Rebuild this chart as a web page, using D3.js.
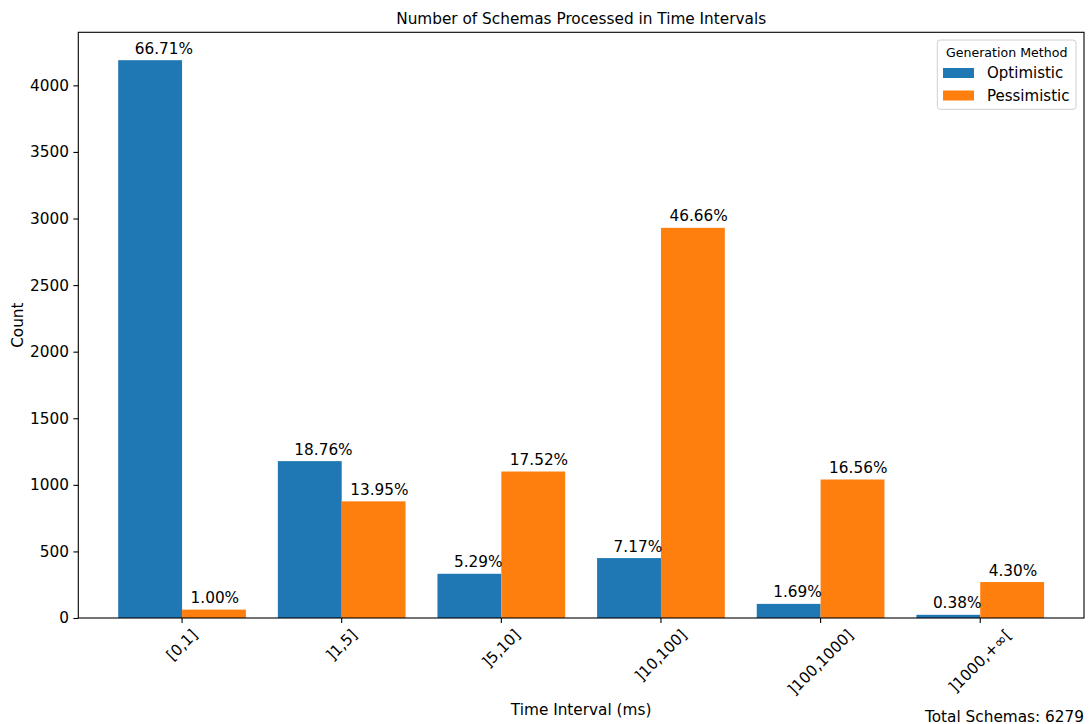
<!DOCTYPE html>
<html>
<head>
<meta charset="utf-8">
<script src="https://cdn.jsdelivr.net/npm/d3@7"></script>
<style>
  html, body { margin: 0; padding: 0; background: #fff; }
  svg { display: block; font-family: "DejaVu Sans", sans-serif; }
</style>
</head>
<body>
<svg id="chart" width="1089" height="724"></svg>
<script>
// Schema counts per processing-time interval
const intervals = ["[0,1]", "]1,5]", "]5,10]", "]10,100]", "]100,1000]", "]1000,+\u221E["];
const optimistic = [4189, 1178, 332, 450, 106, 24];
const pessimistic = [63, 876, 1100, 2930, 1040, 270];
const optimisticPct = ["66.71%", "18.76%", "5.29%", "7.17%", "1.69%", "0.38%"];
const pessimisticPct = ["1.00%", "13.95%", "17.52%", "46.66%", "16.56%", "4.30%"];
const yTicks = [0, 500, 1000, 1500, 2000, 2500, 3000, 3500, 4000];
const totalSchemas = 6279;

const series = [
  { name: "Optimistic", values: optimistic, pct: optimisticPct, color: "#1f77b4", shift: -0.4, labelPad: 16.5 },
  { name: "Pessimistic", values: pessimistic, pct: pessimisticPct, color: "#ff7f0e", shift: 0, labelPad: 8.5 }
];

const FS = 15.3;
const svg = d3.select("#chart");
const plot = { left: 78.3, right: 1084, top: 32.3, bottom: 618 };
const barW = 0.4;

const x = d3.scaleLinear().domain([-0.65, intervals.length - 0.35]).range([plot.left, plot.right]);
const yMax = d3.max([...optimistic, ...pessimistic]) * 1.05;
const y = d3.scaleLinear().domain([0, yMax]).range([plot.bottom, plot.top]);

// Bars
series.forEach(s => {
  svg.append("g").selectAll("rect")
    .data(s.values)
    .join("rect")
    .attr("x", (d, i) => x(i + s.shift))
    .attr("y", d => y(d))
    .attr("width", (d, i) => x(i + s.shift + barW) - x(i + s.shift))
    .attr("height", d => y(0) - y(d))
    .attr("fill", s.color);
});

// Percentage labels above bars
series.forEach(s => {
  svg.append("g").selectAll("text")
    .data(s.values)
    .join("text")
    .attr("x", (d, i) => x(i + s.shift) + s.labelPad)
    .attr("y", d => y(d) - 6.5)
    .attr("font-size", FS)
    .attr("fill", "#000")
    .text((d, i) => s.pct[i]);
});

// Y axis
const yAxis = d3.axisLeft(y).tickValues(yTicks).tickSize(4.9).tickPadding(4.5).tickFormat(d3.format("d"));
const yg = svg.append("g").attr("transform", `translate(${plot.left},0)`).call(yAxis);
yg.select(".domain").remove();
yg.selectAll(".tick line").attr("stroke", "#000").attr("stroke-width", 1.1);
yg.selectAll(".tick text").attr("font-size", FS).attr("fill", "#000")
  .attr("font-family", "DejaVu Sans");

// X axis ticks with rotated labels
const xg = svg.append("g");
intervals.forEach((label, i) => {
  const cx = x(i);
  xg.append("line")
    .attr("x1", cx).attr("x2", cx)
    .attr("y1", plot.bottom).attr("y2", plot.bottom + 4.9)
    .attr("stroke", "#000").attr("stroke-width", 1.1);
  const g = xg.append("g");
  g.append("text")
    .attr("text-anchor", "middle")
    .attr("font-size", FS)
    .attr("fill", "#000")
    .attr("transform", "rotate(-45)")
    .text(label);
  const bb = g.node().getBBox();
  const top = plot.bottom + 8;
  g.attr("transform", `translate(${cx - (bb.x + bb.width / 2)},${top - bb.y})`);
});

// Frame
svg.append("rect")
  .attr("x", plot.left).attr("y", plot.top)
  .attr("width", plot.right - plot.left).attr("height", plot.bottom - plot.top)
  .attr("fill", "none").attr("stroke", "#000").attr("stroke-width", 1.1);

// Title and axis labels
svg.append("text")
  .attr("x", (plot.left + plot.right) / 2).attr("y", 23.5)
  .attr("text-anchor", "middle").attr("font-size", FS)
  .text("Number of Schemas Processed in Time Intervals");

svg.append("text")
  .attr("transform", `translate(23,${(plot.top + plot.bottom) / 2}) rotate(-90)`)
  .attr("text-anchor", "middle").attr("font-size", FS)
  .text("Count");

svg.append("text")
  .attr("x", (plot.left + plot.right) / 2).attr("y", 714.5)
  .attr("text-anchor", "middle").attr("font-size", FS)
  .text("Time Interval (ms)");

svg.append("text")
  .attr("x", plot.right).attr("y", 721.5)
  .attr("text-anchor", "end").attr("font-size", FS)
  .text(`Total Schemas: ${totalSchemas}`);

// Legend
const lg = svg.append("g");
lg.append("rect")
  .attr("x", 937.3).attr("y", 40).attr("width", 138.7).attr("height", 69.3)
  .attr("rx", 3).attr("fill", "#fff").attr("fill-opacity", 0.8)
  .attr("stroke", "#d0d0d0").attr("stroke-width", 1);
lg.append("text")
  .attr("x", (937.3 + 1076) / 2).attr("y", 56.5)
  .attr("text-anchor", "middle").attr("font-size", 12.6)
  .text("Generation Method");
series.forEach((s, i) => {
  const cy = 73 + i * 22.5;
  lg.append("rect")
    .attr("x", 943).attr("y", cy - 5).attr("width", 31).attr("height", 10)
    .attr("fill", s.color);
  lg.append("text")
    .attr("x", 987).attr("y", cy + 5.3)
    .attr("font-size", 15)
    .text(s.name);
});
</script>
</body>
</html>
